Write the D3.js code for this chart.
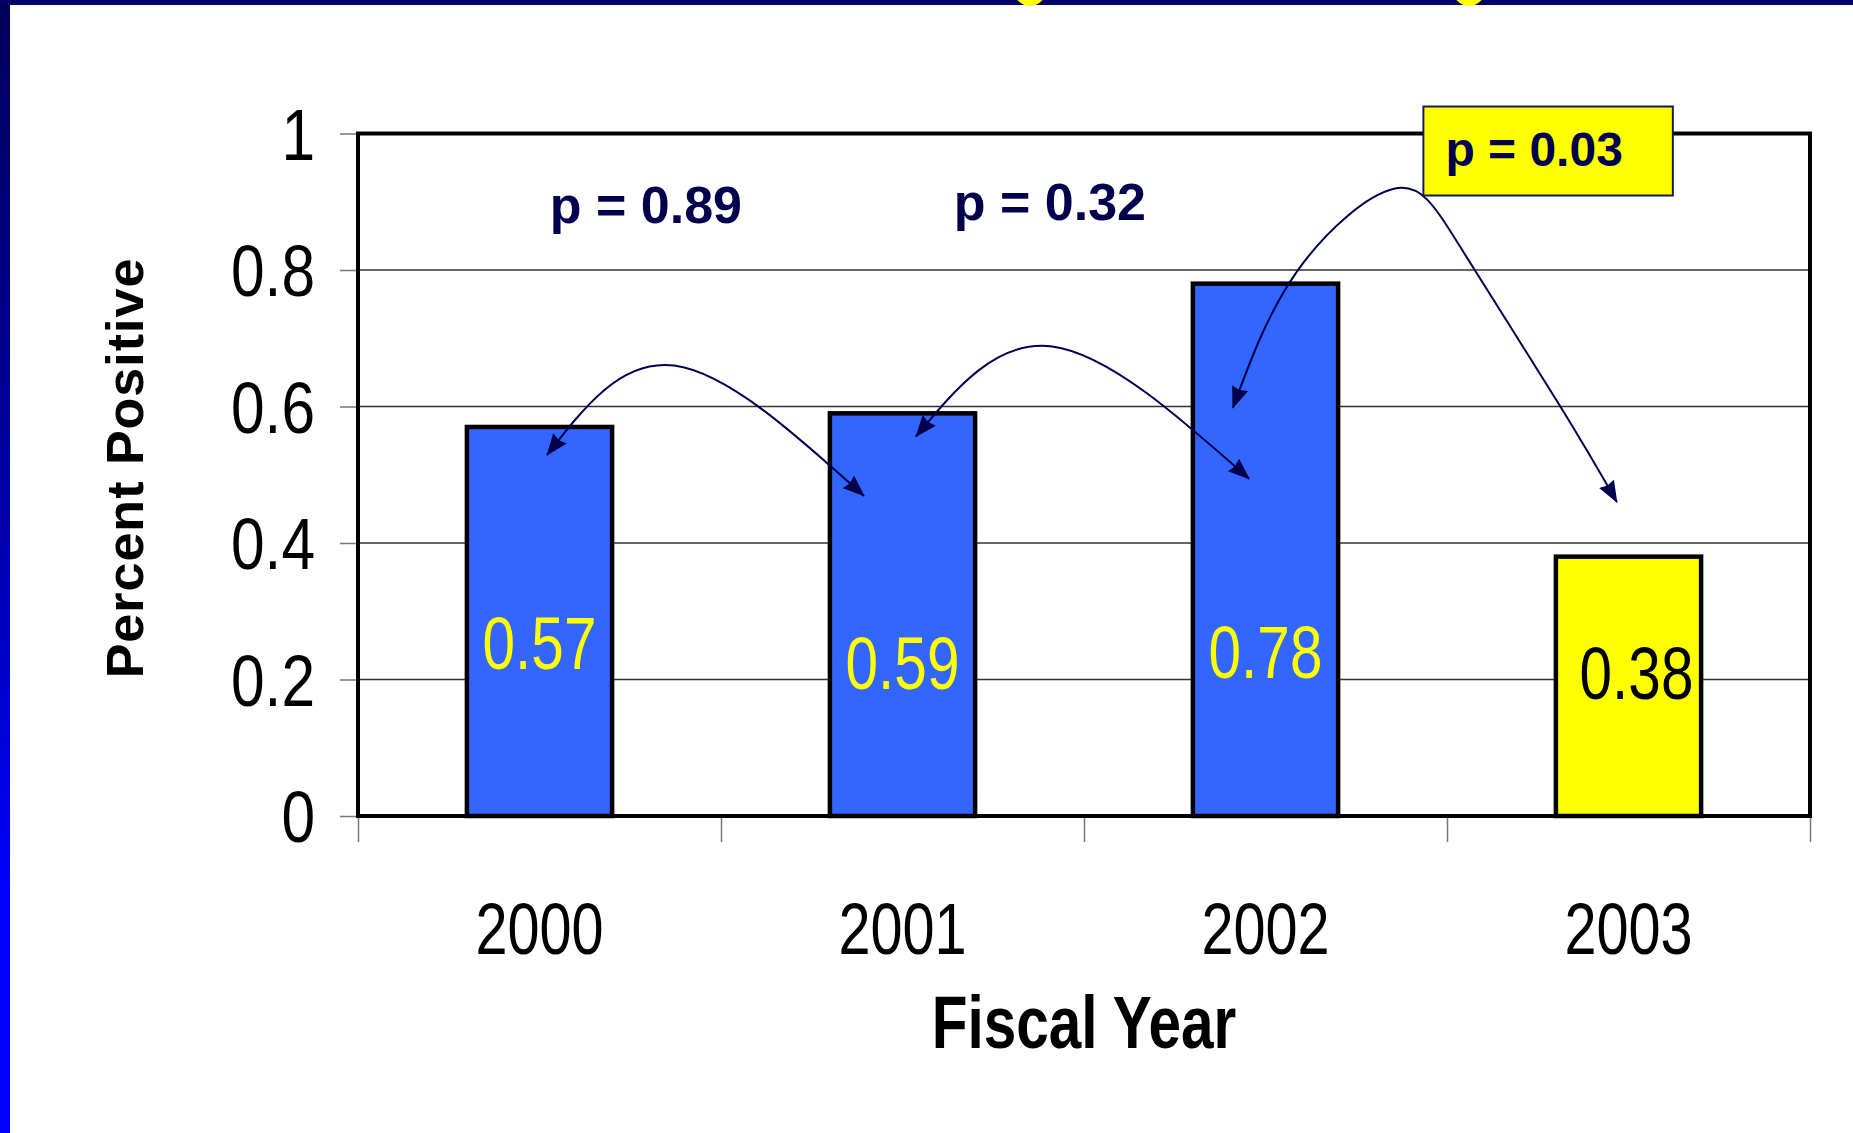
<!DOCTYPE html>
<html>
<head>
<meta charset="utf-8">
<script src="https://cdn.jsdelivr.net/npm/d3@7"></script>
<style>
  html, body { margin: 0; padding: 0; background: #ffffff; overflow: hidden; }
  svg { display: block; }
  text { font-family: "Liberation Sans", Arial, Helvetica, sans-serif; }
</style>
</head>
<body>
<svg id="chart" width="1853" height="1133"></svg>
<script>
// ---- data ----
const years = ["2000", "2001", "2002", "2003"];
const percentPositive = [0.57, 0.59, 0.78, 0.38];
const yTickValues = [0, 0.2, 0.4, 0.6, 0.8, 1];
const yTickLabels = ["0", "0.2", "0.4", "0.6", "0.8", "1"];
const comparisonLabels = ["p = 0.89", "p = 0.32", "p = 0.03"];
const significantComparison = 2;   // the boxed p-value
const highlightYear = "2003";

// comparison arcs, given as (category position, percent) pairs
const arcPaths = [
  [[0.521, 0.529], [0.871, 0.660], [1.394, 0.469]],
  [[1.537, 0.556], [1.912, 0.688], [2.455, 0.494]],
  [[2.410, 0.598], [2.587, 0.798], [2.854, 0.919], [3.041, 0.830], [3.311, 0.601], [3.468, 0.460]]
];
// where each p-value label sits, same space
const comparisonAnchors = [[0.793, 0.897], [1.906, 0.900], [3.240, 0.978]];
// height (in percent units) at which each bar's value label is centred, and a sideways nudge (category units)
const valueLabelLevels = [0.255, 0.226, 0.242, 0.211];
const valueLabelNudges = [0, 0, 0, 0.022];

// ---- layout & style ----
const W = 1853, H = 1133;
const plot = { left: 358, right: 1810, top: 133.5, bottom: 816 };
const NAVY = "#00004d";
const BLUE = "#3366ff";
const YELLOW = "#ffff00";
const NARROW = 0.78;            // horizontal squeeze for the condensed face

const svg = d3.select("#chart");

// slide frame: gradient strip on the left, navy strip along the top
const defs = svg.append("defs");
const grad = defs.append("linearGradient").attr("id", "sideStrip")
  .attr("x1", 0).attr("y1", 0).attr("x2", 0).attr("y2", 1);
grad.append("stop").attr("offset", "0").attr("stop-color", "#000058");
grad.append("stop").attr("offset", "0.45").attr("stop-color", "#0000a8");
grad.append("stop").attr("offset", "0.8").attr("stop-color", "#0000ff");
grad.append("stop").attr("offset", "1").attr("stop-color", "#0000ff");

svg.append("rect").attr("x", 0).attr("y", 0).attr("width", W).attr("height", H).attr("fill", "#ffffff");
svg.append("rect").attr("x", 0).attr("y", 0).attr("width", 10).attr("height", H).attr("fill", "url(#sideStrip)");
svg.append("rect").attr("x", 0).attr("y", 0).attr("width", W).attr("height", 5).attr("fill", "#000066");
// tails of the title lettering just peeking in at the top
svg.selectAll("circle.titleDot").data([1030, 1469]).enter().append("circle")
  .attr("class", "titleDot").attr("cx", d => d).attr("cy", -10).attr("r", 16).attr("fill", YELLOW);

// arrowhead marker
defs.append("marker").attr("id", "arrowHead")
  .attr("viewBox", "0 0 22 17").attr("refX", 21).attr("refY", 8.5)
  .attr("markerUnits", "userSpaceOnUse").attr("markerWidth", 22).attr("markerHeight", 17)
  .attr("orient", "auto-start-reverse")
  .append("path").attr("d", "M0,0 L22,8.5 L0,17 L2,8.5 Z").attr("fill", NAVY);

// ---- scales ----
const x = d3.scaleBand().domain(years).range([plot.left, plot.right]).padding(0);
const xPos = d3.scaleLinear().domain([0, years.length]).range([plot.left, plot.right]);
const y = d3.scaleLinear().domain([0, 1]).range([plot.bottom, plot.top]);

// ---- gridlines ----
svg.append("g").selectAll("line").data(yTickValues.filter(v => v > 0 && v < 1)).enter().append("line")
  .attr("x1", plot.left).attr("x2", plot.right)
  .attr("y1", d => y(d)).attr("y2", d => y(d))
  .attr("stroke", "#333").attr("stroke-width", 1.4);

// ---- y axis ----
const yAxis = svg.append("g").attr("transform", `translate(${plot.left},0)`)
  .call(d3.axisLeft(y).tickValues(yTickValues).tickFormat((d, i) => yTickLabels[i])
    .tickSize(18).tickPadding(25));
yAxis.select(".domain").remove();
yAxis.selectAll(".tick line").attr("stroke", "#777").attr("stroke-width", 1.5);
const Y_NARROW = 0.84;
yAxis.selectAll(".tick text")
  .attr("x", -43 / Y_NARROW).attr("dy", "0.36em")
  .attr("transform", `scale(${Y_NARROW},1)`)
  .style("font-family", "'Liberation Sans', Arial, sans-serif")
  .style("font-size", "72px").attr("fill", "#000");

// ---- x axis: boundary ticks and centred year labels ----
const xTicks = svg.append("g").attr("transform", `translate(0,${plot.bottom})`)
  .call(d3.axisBottom(xPos).tickValues(d3.range(0, years.length + 1)).tickSize(26).tickFormat(""));
xTicks.select(".domain").remove();
xTicks.selectAll(".tick line").attr("stroke", "#777").attr("stroke-width", 1.5);

const xAxis = svg.append("g").attr("transform", `translate(0,${plot.bottom})`)
  .call(d3.axisBottom(x).tickSize(0));
xAxis.select(".domain").remove();
xAxis.selectAll(".tick text")
  .attr("y", 138).attr("dy", 0)
  .attr("transform", `scale(0.8,1)`)
  .style("font-family", "'Liberation Sans', Arial, sans-serif")
  .style("font-size", "72px").attr("fill", "#000");

// ---- bars ----
const barFrac = 0.4;
const bars = years.map((yr, i) => ({ year: yr, value: percentPositive[i], i }));
svg.append("g").selectAll("rect").data(bars).enter().append("rect")
  .attr("x", d => x(d.year) + x.bandwidth() * (1 - barFrac) / 2)
  .attr("width", x.bandwidth() * barFrac)
  .attr("y", d => y(d.value))
  .attr("height", d => y(0) - y(d.value))
  .attr("fill", d => d.year === highlightYear ? YELLOW : BLUE)
  .attr("stroke", "#000").attr("stroke-width", 4.5);

// ---- plot frame ----
svg.append("rect")
  .attr("x", plot.left).attr("y", plot.top)
  .attr("width", plot.right - plot.left).attr("height", plot.bottom - plot.top)
  .attr("fill", "none").attr("stroke", "#000").attr("stroke-width", 4);

// ---- value labels inside bars ----
svg.append("g").selectAll("text").data(bars).enter().append("text")
  .attr("transform", d => `translate(${xPos(d.i + 0.5 + valueLabelNudges[d.i])},${y(valueLabelLevels[d.i])}) scale(${NARROW},1)`)
  .attr("text-anchor", "middle").attr("dy", "0.36em")
  .style("font-size", "75px")
  .attr("fill", d => d.year === highlightYear ? "#000" : YELLOW)
  .text(d => d3.format(".2f")(d.value));

// ---- comparison arcs ----
const arcLine = d3.line().x(d => xPos(d[0])).y(d => y(d[1])).curve(d3.curveNatural);
svg.append("g").selectAll("path").data(arcPaths).enter().append("path")
  .attr("d", arcLine)
  .attr("fill", "none").attr("stroke", NAVY).attr("stroke-width", 2)
  .attr("marker-start", "url(#arrowHead)").attr("marker-end", "url(#arrowHead)");

// ---- p-value labels ----
const pGroup = svg.append("g");
comparisonLabels.forEach((lab, i) => {
  const [cx, cy] = [xPos(comparisonAnchors[i][0]), y(comparisonAnchors[i][1])];
  const g = pGroup.append("g");
  const t = g.append("text")
    .attr("x", cx).attr("y", cy).attr("dy", "0.36em")
    .attr("text-anchor", "middle")
    .style("font-size", i === significantComparison ? "48px" : "52px")
    .style("font-weight", "bold")
    .attr("fill", NAVY)
    .text(lab);
  if (i === significantComparison) {
    const bb = t.node().getBBox();
    g.insert("rect", "text")
      .attr("x", bb.x - 22).attr("y", cy - 42)
      .attr("width", bb.width + 72).attr("height", 89)
      .attr("fill", YELLOW).attr("stroke", "#1a1a5a").attr("stroke-width", 2);
  }
});

// ---- axis titles ----
svg.append("text")
  .attr("transform", `translate(${(plot.left + plot.right) / 2},1048) scale(0.79,1)`)
  .attr("text-anchor", "middle")
  .style("font-size", "74px").style("font-weight", "bold").attr("fill", "#000")
  .text("Fiscal Year");

svg.append("text")
  .attr("transform", "translate(143,468) rotate(-90)")
  .attr("text-anchor", "middle")
  .style("font-size", "52px").style("font-weight", "bold").style("letter-spacing", "1px")
  .attr("fill", "#000")
  .text("Percent Positive");
</script>
</body>
</html>
